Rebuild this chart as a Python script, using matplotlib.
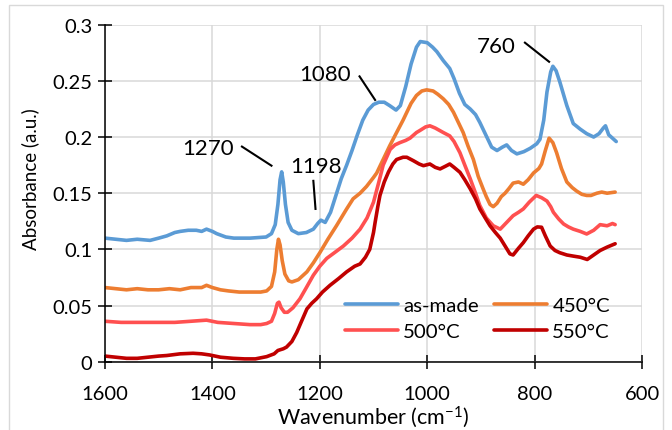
import numpy as np
import matplotlib
matplotlib.use("Agg")
from matplotlib import pyplot as plt
from matplotlib.patches import Rectangle

plt.rcParams['font.family'] = ['Lato', 'DejaVu Sans']
plt.rcParams['mathtext.fontset'] = 'custom'
plt.rcParams['mathtext.rm'] = 'Lato'

# FTIR spectra (wavenumber in cm-1, absorbance)
wn_asmade = [1600, 1580, 1560, 1540, 1516, 1500, 1485, 1470, 1460, 1445, 1430, 1420, 1411, 1400,
             1392, 1375, 1360, 1330, 1300, 1290, 1283, 1278, 1274, 1271, 1268, 1264, 1259, 1252,
             1240, 1225, 1212, 1204, 1198, 1190, 1180, 1170, 1160, 1150, 1140, 1130, 1120, 1110,
             1100, 1090, 1080, 1070, 1058, 1050, 1040, 1030, 1020, 1013, 1000, 990, 982, 970, 958,
             950, 940, 930, 920, 910, 902, 890, 880, 870, 860, 852, 843, 833, 820, 808, 796, 790,
             783, 777, 770, 766, 760, 753, 745, 740, 728, 715, 703, 690, 680, 672, 668, 662, 655, 648]
ab_asmade = [0.110, 0.109, 0.108, 0.109, 0.108, 0.110, 0.112, 0.115, 0.116, 0.117, 0.117, 0.116, 0.118, 0.116,
             0.114, 0.111, 0.110, 0.110, 0.111, 0.114, 0.122, 0.140, 0.162, 0.169, 0.160, 0.140, 0.124, 0.117,
             0.114, 0.115, 0.118, 0.123, 0.126, 0.124, 0.133, 0.148, 0.163, 0.175, 0.188, 0.202, 0.215, 0.224,
             0.229, 0.231, 0.231, 0.228, 0.224, 0.228, 0.245, 0.265, 0.280, 0.285, 0.284, 0.280, 0.276, 0.268, 0.261,
             0.252, 0.239, 0.229, 0.225, 0.220, 0.213, 0.201, 0.191, 0.188, 0.191, 0.193, 0.188, 0.185, 0.187, 0.190, 0.194, 0.198,
             0.215, 0.240, 0.258, 0.263, 0.259, 0.249, 0.236, 0.228, 0.212, 0.207, 0.203, 0.200, 0.203, 0.208, 0.210, 0.202, 0.199, 0.196]

wn_450 = [1600, 1580, 1560, 1540, 1520, 1500, 1480, 1460, 1440, 1420, 1411, 1400, 1385, 1370, 1350, 1330,
          1310, 1299, 1290, 1284, 1280, 1277, 1274, 1270, 1265, 1258, 1252, 1240, 1224, 1212, 1200, 1185,
          1169, 1150, 1138, 1125, 1113, 1100, 1094, 1082, 1070, 1057, 1045, 1038, 1030, 1020, 1010, 1001,
          989, 980, 970, 960, 951, 942, 933, 924, 914, 905, 896, 890, 883, 877, 870, 862, 855, 848, 840,
          830, 821, 812, 802, 792, 787, 780, 773, 766, 759, 750, 740, 730, 722, 712, 703, 695, 684, 675, 665, 650]
ab_450 = [0.066, 0.065, 0.064, 0.065, 0.064, 0.064, 0.065, 0.064, 0.066, 0.066, 0.068, 0.066, 0.064, 0.063, 0.062, 0.062,
          0.062, 0.063, 0.067, 0.080, 0.100, 0.109, 0.104, 0.090, 0.078, 0.072, 0.071, 0.073, 0.080, 0.088, 0.097, 0.109,
          0.121, 0.136, 0.145, 0.150, 0.156, 0.164, 0.168, 0.180, 0.192, 0.204, 0.215, 0.222, 0.230, 0.237, 0.241, 0.242,
          0.241, 0.238, 0.234, 0.229, 0.222, 0.213, 0.204, 0.192, 0.180, 0.165, 0.154, 0.147, 0.140, 0.138, 0.141, 0.147, 0.150, 0.154, 0.159,
          0.160, 0.158, 0.162, 0.168, 0.172, 0.176, 0.188, 0.199, 0.195, 0.186, 0.172, 0.160, 0.155, 0.152, 0.149, 0.148, 0.148, 0.150, 0.151, 0.150, 0.151]

wn_500 = [1600, 1570, 1540, 1500, 1470, 1440, 1411, 1390, 1360, 1330, 1310, 1299, 1290, 1284, 1279, 1276,
          1272, 1266, 1260, 1250, 1237, 1225, 1212, 1200, 1187, 1170, 1156, 1140, 1125, 1112, 1100, 1090,
          1082, 1069, 1060, 1051, 1040, 1032, 1020, 1013, 1003, 995, 985, 970, 958, 950, 939, 930, 920,
          910, 902, 890, 877, 864, 852, 840, 830, 821, 810, 797, 787, 777, 770, 765, 755, 746, 737, 728,
          715, 703, 690, 678, 665, 655, 650]
ab_500 = [0.036, 0.035, 0.035, 0.035, 0.035, 0.036, 0.037, 0.035, 0.034, 0.033, 0.033, 0.034, 0.036, 0.043, 0.052, 0.053,
          0.048, 0.044, 0.044, 0.048, 0.056, 0.066, 0.077, 0.085, 0.092, 0.098, 0.103, 0.110, 0.118, 0.128, 0.142, 0.160,
          0.175, 0.189, 0.193, 0.195, 0.197, 0.199, 0.204, 0.206, 0.209, 0.210, 0.208, 0.204, 0.201, 0.196, 0.186, 0.175, 0.163,
          0.150, 0.139, 0.128, 0.121, 0.118, 0.124, 0.130, 0.133, 0.136, 0.142, 0.148, 0.146, 0.143, 0.138, 0.133, 0.127, 0.1226, 0.120, 0.118,
          0.116, 0.1137, 0.117, 0.122, 0.121, 0.123, 0.122]

wn_550 = [1600, 1580, 1560, 1540, 1520, 1500, 1485, 1460, 1436, 1420, 1405, 1385, 1361, 1340, 1320, 1299,
          1285, 1278, 1268, 1262, 1252, 1243, 1234, 1224, 1215, 1206, 1195, 1181, 1165, 1150, 1135, 1125,
          1115, 1107, 1100, 1097, 1092, 1088, 1080, 1072, 1064, 1057, 1045, 1038, 1026, 1015, 1007, 995,
          985, 976, 966, 958, 950, 939, 930, 920, 910, 902, 892, 883, 873, 864, 855, 846, 840, 830, 821,
          812, 802, 795, 787, 780, 771, 762, 753, 740, 728, 715, 702, 690, 678, 665, 650]
ab_550 = [0.005, 0.004, 0.003, 0.003, 0.004, 0.005, 0.0055, 0.007, 0.0075, 0.007, 0.006, 0.004, 0.003, 0.0025, 0.0025, 0.0045,
          0.007, 0.010, 0.0115, 0.013, 0.018, 0.026, 0.036, 0.047, 0.052, 0.056, 0.062, 0.068, 0.074, 0.080, 0.085, 0.087,
          0.093, 0.100, 0.115, 0.124, 0.138, 0.148, 0.160, 0.169, 0.176, 0.180, 0.182, 0.182, 0.179, 0.176, 0.1745, 0.176,
          0.173, 0.1716, 0.174, 0.176, 0.173, 0.1686, 0.162, 0.154, 0.145, 0.136, 0.128, 0.121, 0.115, 0.110, 0.103, 0.096, 0.095, 0.101, 0.106,
          0.112, 0.118, 0.120, 0.1197, 0.112, 0.103, 0.099, 0.097, 0.095, 0.094, 0.093, 0.091, 0.095, 0.099, 0.102, 0.105]

series = [
    ('as-made', wn_asmade, ab_asmade, '#5B9BD5'),
    ('450°C', wn_450, ab_450, '#ED7D31'),
    ('500°C', wn_500, ab_500, '#FF5050'),
    ('550°C', wn_550, ab_550, '#C00000'),
]

fig = plt.figure(figsize=(6.72, 4.31), dpi=100)
ax = fig.add_axes([105/672, 1 - 362.7/431, 537/672, 337/431])

lines = {}
for name, wn, ab, col in series:
    lines[name], = ax.plot(wn, ab, color=col, lw=2.6, solid_capstyle='round', label=name)

ax.set_xlim(1600, 600)
ax.set_ylim(0, 0.3)
ax.set_xticks(np.arange(600, 1601, 200))
ax.set_yticks(np.arange(0, 0.301, 0.05))
ax.set_yticklabels(['0', '0.05', '0.1', '0.15', '0.2', '0.25', '0.3'])
ax.grid(True, color='#D9D9D9', lw=1.1)
ax.set_axisbelow(True)
for s in ['top', 'right']:
    ax.spines[s].set_visible(False)
for s in ['left', 'bottom']:
    ax.spines[s].set_linewidth(1.1)
ax.tick_params(direction='inout', length=10, width=1.1, labelsize=14.5, colors='black')
ax.tick_params(axis='x', pad=12)
ax.tick_params(axis='y', pad=4)

# axis titles placed like the Excel original
ax.text(0.5, (362.7 - 417) / 337, r'Wavenumber (cm$\mathregular{^{-1}}$)', fontsize=15.5,
        ha='center', va='center', transform=ax.transAxes)
ax.text((30 - 105) / 537, (362.7 - 179) / 337, 'Absorbance (a.u.)', fontsize=13.5,
        rotation=90, ha='center', va='center', transform=ax.transAxes)

# peak labels with leader lines
peaks = [('1270', (1408, 0.190), (1345, 0.1915), (1290, 0.1745)),
         ('1198', (1207, 0.1745), (1212, 0.161), (1208, 0.136)),
         ('1080', (1190, 0.256), (1126, 0.254), (1097, 0.233)),
         ('760', (872, 0.281), (818, 0.284), (773, 0.267))]
for txt, pos, p0, p1 in peaks:
    ax.text(pos[0], pos[1], txt, fontsize=16, ha='center', va='center')
    ax.plot([p0[0], p1[0]], [p0[1], p1[1]], color='black', lw=1.5)

order = ['as-made', '500°C', '450°C', '550°C']
ax.legend([lines[k] for k in order], order, ncol=2, frameon=False, fontsize=14.7,
          loc='center left', bbox_to_anchor=((345 - 105) / 537, (362.7 - 319.5) / 337),
          handlelength=2.6, handletextpad=0.25, columnspacing=0.75, labelspacing=0.45,
          borderpad=0, borderaxespad=0)

fig.add_artist(Rectangle((9/672, -0.01), 654/672, 1 - 6/431 + 0.01, transform=fig.transFigure,
                         fill=False, edgecolor='#D9D9D9', lw=1))

fig.savefig('out.png', dpi=100)
